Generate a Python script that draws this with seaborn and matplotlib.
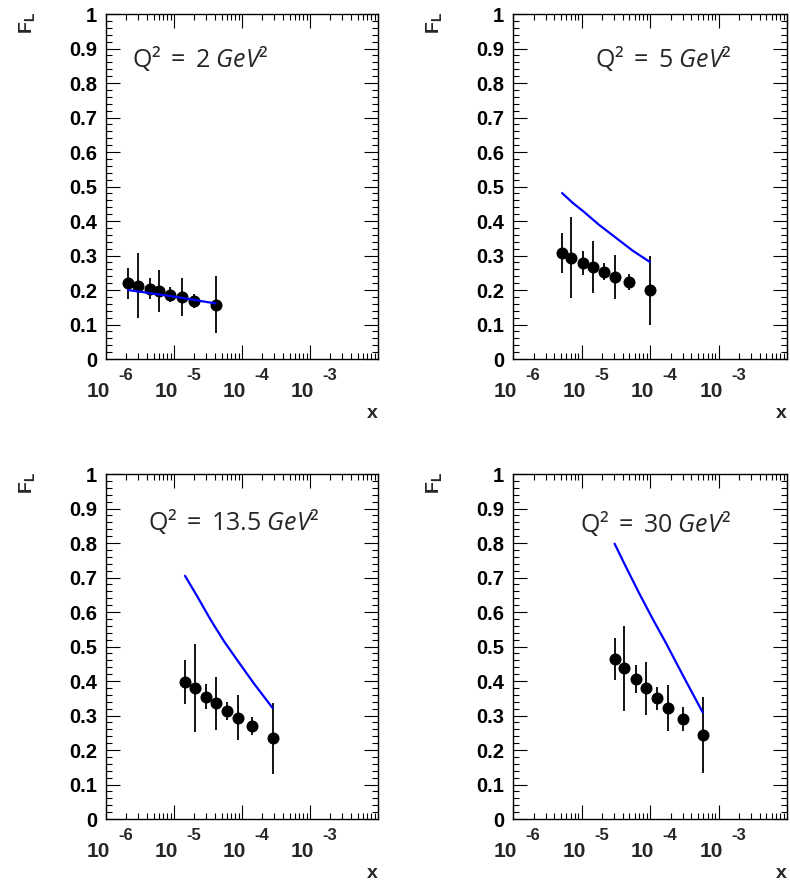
"""F_L versus x at four Q^2 values: data points with errors and a model curve."""
import matplotlib
matplotlib.use("Agg")
import matplotlib.pyplot as plt
import matplotlib.transforms as mtransforms
import numpy as np
import seaborn as sns
from matplotlib.ticker import FuncFormatter, LogLocator, MultipleLocator, NullFormatter

# panel titles
Q2_LABELS = ["2", "5", "13.5", "30"]
# decades that carry a "10^n" label
DECADES = [-6, -5, -4, -3]

# Q2 = 2 GeV^2
x_q2_2 = [2.1e-6, 3.0e-6, 4.4e-6, 6.1e-6, 8.8e-6, 1.3e-5, 2.0e-5, 4.1e-5]
fl_q2_2 = [0.219, 0.213, 0.204, 0.197, 0.187, 0.180, 0.169, 0.157]
err_q2_2 = [0.045, 0.095, 0.030, 0.062, 0.022, 0.056, 0.020, 0.083]
curve_x_q2_2 = [2.1e-6, 1.0e-5, 4.1e-5]
curve_fl_q2_2 = [0.200, 0.181, 0.161]

# Q2 = 5 GeV^2
x_q2_5 = [5.2e-6, 7.1e-6, 1.04e-5, 1.47e-5, 2.13e-5, 3.09e-5, 5.0e-5, 1.0e-4]
fl_q2_5 = [0.307, 0.294, 0.279, 0.266, 0.253, 0.238, 0.222, 0.200]
err_q2_5 = [0.058, 0.118, 0.035, 0.075, 0.025, 0.064, 0.023, 0.100]
curve_x_q2_5 = [5.2e-6, 7.5e-6, 1.05e-5, 1.8e-5, 3.2e-5, 5.5e-5, 1.0e-4]
curve_fl_q2_5 = [0.481, 0.452, 0.429, 0.389, 0.351, 0.315, 0.281]

# Q2 = 13.5 GeV^2
x_q2_13 = [1.45e-5, 2.03e-5, 2.98e-5, 4.18e-5, 6.05e-5, 8.77e-5, 1.41e-4, 2.81e-4]
fl_q2_13 = [0.398, 0.379, 0.355, 0.336, 0.313, 0.294, 0.270, 0.234]
err_q2_13 = [0.064, 0.127, 0.037, 0.077, 0.026, 0.066, 0.027, 0.103]
curve_x_q2_13 = [1.45e-5, 2.2e-5, 3.44e-5, 5.4e-5, 8.47e-5, 1.48e-4, 2.81e-4]
curve_fl_q2_13 = [0.705, 0.645, 0.578, 0.516, 0.461, 0.394, 0.322]

# Q2 = 30 GeV^2
x_q2_30 = [3.04e-5, 4.17e-5, 6.18e-5, 8.67e-5, 1.28e-4, 1.85e-4, 2.99e-4, 5.88e-4]
fl_q2_30 = [0.464, 0.437, 0.405, 0.379, 0.350, 0.321, 0.289, 0.244]
err_q2_30 = [0.062, 0.123, 0.041, 0.077, 0.033, 0.066, 0.035, 0.110]
curve_x_q2_30 = [3.04e-5, 4.42e-5, 6.92e-5, 1.08e-4, 1.71e-4, 2.99e-4, 5.88e-4]
curve_fl_q2_30 = [0.798, 0.732, 0.655, 0.582, 0.510, 0.418, 0.309]

PANELS = [
    (x_q2_2, fl_q2_2, err_q2_2, curve_x_q2_2, curve_fl_q2_2),
    (x_q2_5, fl_q2_5, err_q2_5, curve_x_q2_5, curve_fl_q2_5),
    (x_q2_13, fl_q2_13, err_q2_13, curve_x_q2_13, curve_fl_q2_13),
    (x_q2_30, fl_q2_30, err_q2_30, curve_x_q2_30, curve_fl_q2_30),
]

# axes rectangles in figure fractions and label spots in axes fractions
AX_RECTS = [
    [0.1342, 0.5957, 0.3443, 0.3885],
    [0.6494, 0.5957, 0.3468, 0.3885],
    [0.1342, 0.0777, 0.3443, 0.3885],
    [0.6494, 0.0777, 0.3468, 0.3885],
]
Q2_POS = [(0.096, 0.847), (0.30, 0.847), (0.155, 0.838), (0.245, 0.832)]

sns.set_style("ticks")
plt.rcParams["font.family"] = ["Liberation Sans", "DejaVu Sans"]
plt.rcParams["mathtext.fontset"] = "custom"
plt.rcParams["mathtext.rm"] = "Open Sans"
plt.rcParams["mathtext.it"] = "Open Sans:italic"
plt.rcParams["mathtext.bf"] = "Liberation Sans:bold"


def decade_labels(ax, fig):
    # ROOT-like "10" with a raised exponent, hung under each decade tick
    base = ax.get_xaxis_transform()
    t_ten = mtransforms.offset_copy(base, fig=fig, x=2.9, y=-27.1, units="points")
    t_exp = mtransforms.offset_copy(base, fig=fig, x=9.0, y=-15.1, units="points")
    for e in DECADES:
        ax.text(10.0 ** e, 0, "10", transform=t_ten, ha="right", va="baseline",
                fontsize=15, fontweight="bold")
        ax.text(10.0 ** e, 0, f"-{abs(e)}", transform=t_exp, ha="left", va="baseline",
                fontsize=12, fontweight="bold")


def style_axes(ax, fig):
    ax.set_xscale("log")
    ax.set_xlim(1e-6, 1e-2)
    ax.set_ylim(0, 1)
    ax.xaxis.set_major_locator(LogLocator(base=10, numticks=10))
    ax.xaxis.set_minor_locator(LogLocator(base=10, subs=np.arange(2, 10), numticks=20))
    ax.xaxis.set_major_formatter(NullFormatter())
    ax.xaxis.set_minor_formatter(NullFormatter())
    ax.yaxis.set_major_locator(MultipleLocator(0.1))
    ax.yaxis.set_minor_locator(MultipleLocator(0.02))
    ax.yaxis.set_major_formatter(FuncFormatter(lambda v, p: f"{v:g}"))
    ax.tick_params(which="both", direction="in", top=True, right=True, width=0.8, colors="black")
    ax.tick_params(which="major", length=10)
    ax.tick_params(which="minor", length=4.5)
    ax.tick_params(axis="y", labelsize=14.5, pad=6.5)
    for lab in ax.get_yticklabels():
        lab.set_fontweight("bold")
    for s in ax.spines.values():
        s.set_linewidth(1.0)
        s.set_color("black")
    ax.set_xlabel("")
    ax.set_ylabel("")
    decade_labels(ax, fig)
    ax.text(-0.29, 1.005, r"F$_\mathbf{L}$", rotation=90, ha="center", va="top",
            fontsize=14, fontweight="bold", transform=ax.transAxes)
    ax.text(0.978, -0.157, "x", ha="center", va="center", fontsize=14,
            fontweight="bold", transform=ax.transAxes)


fig = plt.figure(figsize=(7.9, 8.88), dpi=100)
for i, (xs, fl, err, cx, cfl) in enumerate(PANELS):
    ax = fig.add_axes(AX_RECTS[i])
    ax.set_xscale("log")
    ax.errorbar(xs, fl, yerr=err, fmt="none", ecolor="black", elinewidth=1.3, capsize=0)
    sns.scatterplot(x=xs, y=fl, color="black", s=75, edgecolor="black", linewidth=0,
                    ax=ax, zorder=3)
    sns.lineplot(x=cx, y=cfl, color="#0000ff", linewidth=1.6, sort=False,
                 estimator=None, ax=ax, zorder=4)
    style_axes(ax, fig)
    qx, qy = Q2_POS[i]
    ax.text(qx, qy, r"$\mathrm{Q²\;=\;%s\;}\mathit{GeV²}$" % Q2_LABELS[i],
            fontsize=18, ha="left", va="baseline", transform=ax.transAxes)

fig.savefig("out.png", dpi=100, facecolor="white")
